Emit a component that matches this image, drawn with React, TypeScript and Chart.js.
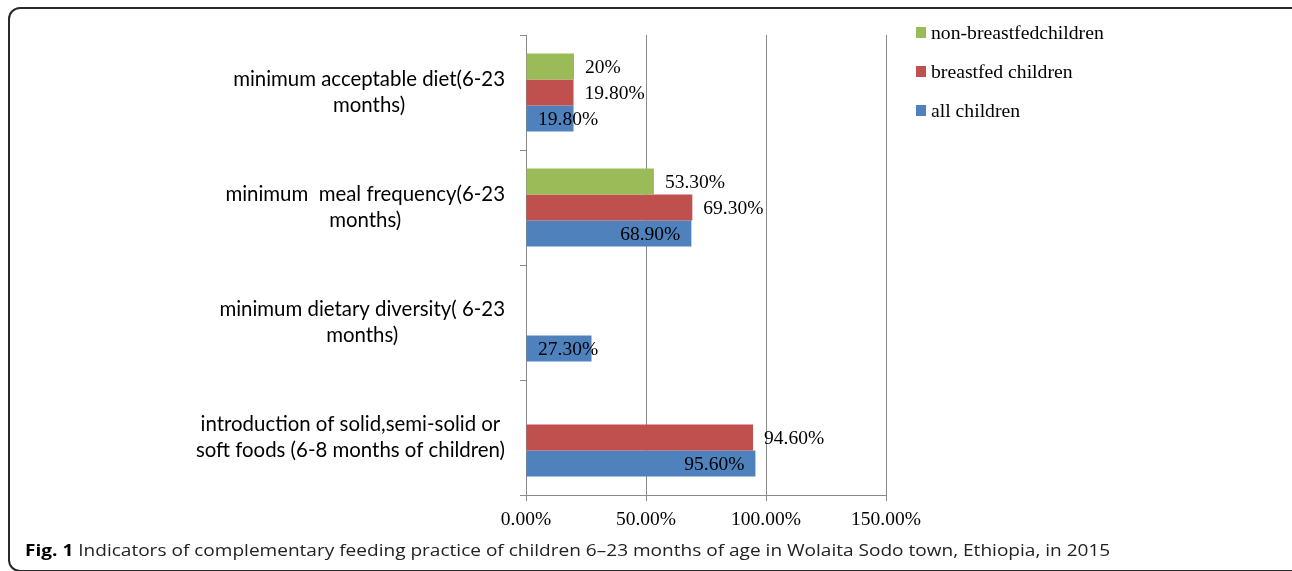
import React, { useEffect, useRef } from 'react';
import { Chart, registerables } from 'chart.js';

Chart.register(...registerables);

const categories: string[][] = [
  ['minimum acceptable diet(6-23', 'months)'],
  ['minimum  meal frequency(6-23', 'months)'],
  ['minimum dietary diversity( 6-23', 'months)'],
  ['introduction of solid,semi-solid or', 'soft foods (6-8 months of children)'],
];
const seriesNames = ['non-breastfedchildren', 'breastfed children', 'all children'];
const nonBreastfed: (number | null)[] = [20, 53.3, null, null];
const breastfed: (number | null)[] = [19.8, 69.3, null, 94.6];
const allChildren: (number | null)[] = [19.8, 68.9, 27.3, 95.6];
const xTicks = [0, 50, 100, 150];
const seriesColors = ['#9BBB59', '#C0504D', '#4F81BD'];

const SERIF = "'Liberation Serif', 'Times New Roman', serif";
const SANS = "Lato, 'Open Sans', sans-serif";

const fmt = (v: number) => (Number.isInteger(v) ? `${v}%` : `${v.toFixed(2)}%`);

export default function App() {
  const ref = useRef<HTMLCanvasElement>(null);

  useEffect(() => {
    const canvas = ref.current;
    if (!canvas) return;

    const yLabelPlugin = {
      id: 'yLabels',
      afterDraw(chart: any) {
        const { ctx } = chart;
        const ys = chart.scales.y;
        ctx.save();
        ctx.font = `20.4px ${SANS}`;
        ctx.fillStyle = '#000';
        ctx.textAlign = 'center';
        ctx.textBaseline = 'middle';
        const right = chart.chartArea.left - 21;
        (chart.data.labels as string[][]).forEach((lines, i) => {
          const cy = ys.getPixelForValue(i);
          const w = Math.max(...lines.map((l) => ctx.measureText(l).width));
          const cx = right - w / 2;
          lines.forEach((l, k) => ctx.fillText(l, cx, cy + (k - (lines.length - 1) / 2) * 26));
        });
        ctx.restore();
      },
    };

    const dataLabelPlugin = {
      id: 'dataLabels',
      afterDatasetsDraw(chart: any) {
        const { ctx } = chart;
        const x0 = chart.scales.x.getPixelForValue(0);
        ctx.save();
        ctx.font = `19.5px ${SERIF}`;
        ctx.fillStyle = '#000';
        ctx.textAlign = 'left';
        ctx.textBaseline = 'middle';
        chart.data.datasets.forEach((ds: any, di: number) => {
          const meta = chart.getDatasetMeta(di);
          meta.data.forEach((el: any, i: number) => {
            const v = ds.data[i];
            if (v == null) return;
            const t = fmt(v);
            const w = ctx.measureText(t).width;
            const end = el.x;
            const x = di === chart.data.datasets.length - 1 ? Math.max(end - 11 - w, x0 + 12) : end + 11;
            ctx.fillText(t, x, el.y + 1.5);
          });
        });
        ctx.restore();
      },
    };

    const legendPlugin = {
      id: 'sideLegend',
      afterDraw(chart: any) {
        const { ctx } = chart;
        ctx.save();
        ctx.font = `19.7px ${SERIF}`;
        ctx.textAlign = 'left';
        ctx.textBaseline = 'middle';
        chart.data.datasets.forEach((ds: any, i: number) => {
          const cy = 32.5 + i * 39;
          ctx.fillStyle = ds.backgroundColor;
          ctx.fillRect(916, cy - 5.5, 10, 11);
          ctx.fillStyle = '#000';
          ctx.fillText(ds.label, 931, cy + 1);
        });
        ctx.restore();
      },
    };

    const seriesData = [nonBreastfed, breastfed, allChildren];

    const chart = new Chart(canvas, {
      type: 'bar',
      data: {
        labels: categories as any,
        datasets: seriesNames.map((name, i) => ({
          label: name,
          data: seriesData[i] as any,
          backgroundColor: seriesColors[i],
          categoryPercentage: 0.68,
          barPercentage: 1,
        })),
      },
      options: {
        indexAxis: 'y',
        responsive: false,
        animation: false,
        devicePixelRatio: 1,
        layout: { padding: { top: 35, right: 406, left: 0, bottom: 0 } },
        plugins: { legend: { display: false }, tooltip: { enabled: false } },
        scales: {
          x: {
            min: 0,
            max: 150,
            afterBuildTicks: (s: any) => {
              s.ticks = xTicks.map((v) => ({ value: v }));
            },
            ticks: {
              callback: (v: any) => `${Number(v).toFixed(2)}%`,
              font: { family: SERIF, size: 19.5 },
              color: '#000',
              padding: 7,
              maxRotation: 0,
              autoSkip: false,
            },
            grid: { color: '#8a8a8a', tickLength: 6, lineWidth: 1 },
            border: { color: '#8a8a8a' },
            afterFit: (s: any) => {
              s.height = 76;
            },
          },
          y: {
            ticks: { display: false },
            grid: { drawOnChartArea: false, tickLength: 6, color: '#8a8a8a' },
            border: { color: '#8a8a8a' },
            afterFit: (s: any) => {
              s.width = 526;
            },
          },
        },
      } as any,
      plugins: [yLabelPlugin, dataLabelPlugin, legendPlugin],
    });

    return () => chart.destroy();
  }, []);

  return (
    <div
      style={{
        position: 'fixed',
        left: 0,
        top: 0,
        width: 1292,
        height: 571,
        overflow: 'hidden',
        background: '#fff',
      }}
    >
      <div
        style={{
          position: 'absolute',
          left: 8,
          top: 7,
          width: 1300,
          height: 565,
          border: '2px solid #2a2a2a',
          borderRadius: 12,
          boxSizing: 'border-box',
        }}
      />
      <canvas ref={ref} width={1292} height={571} style={{ position: 'absolute', left: 0, top: 0 }} />
      <div
        style={{
          position: 'absolute',
          left: 25,
          top: 539,
          fontFamily: "'Open Sans', sans-serif",
          fontSize: 16,
          color: '#222',
          whiteSpace: 'nowrap',
          transform: 'scaleX(1.19)',
          transformOrigin: 'left center',
        }}
      >
        <b style={{ color: '#000' }}>Fig. 1</b> Indicators of complementary feeding practice of children 6–23 months of age in
        Wolaita Sodo town, Ethiopia, in 2015
      </div>
    </div>
  );
}
